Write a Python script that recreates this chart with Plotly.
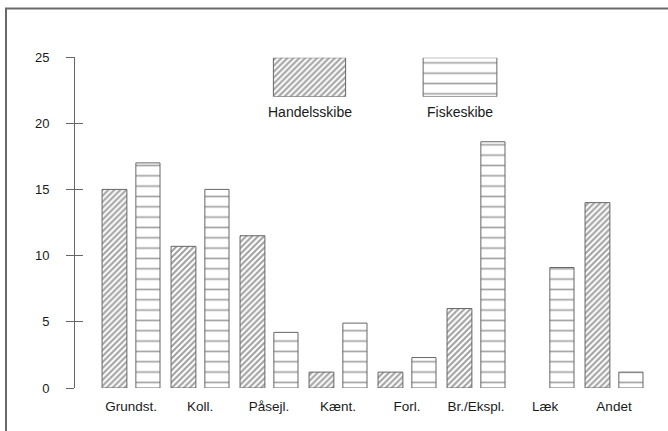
import plotly.graph_objects as go

categories = ["Grundst.", "Koll.", "Påsejl.", "Kænt.", "Forl.", "Br./Ekspl.", "Læk", "Andet"]
handelsskibe = [15, 10.7, 11.5, 1.2, 1.2, 6, None, 14]
fiskeskibe = [17, 15, 4.2, 4.9, 2.3, 18.6, 9.1, 1.2]
series_names = ["Handelsskibe", "Fiskeskibe"]
y_ticks = [0, 5, 10, 15, 20, 25]

FONT = "Liberation Sans, Arial, sans-serif"
LINE = "#666666"
HATCH = "#444444"

W, H = 668, 431
ML, MR, MT, MB = 75, 13, 57, 43
PW, PH = W - ML - MR, H - MT - MB


def px_x(p):
    return (p - ML) / PW


def px_y(p):
    return (H - MB - p) / PH


hatch_diag = dict(shape="/", size=4.2, solidity=0.5, fgcolor=HATCH, bgcolor="white")
hatch_horiz = dict(shape="-", size=10.33, solidity=0.16, fgcolor=HATCH, bgcolor="white")

fig = go.Figure()
fig.add_trace(go.Bar(
    x=categories, y=handelsskibe, name=series_names[0],
    width=0.36, offset=-0.42,
    marker=dict(color="white", line=dict(color=LINE, width=1), pattern=hatch_diag),
    showlegend=False,
))
fig.add_trace(go.Bar(
    x=categories, y=fiskeskibe, name=series_names[1],
    width=0.35, offset=0.07,
    marker=dict(color="white", line=dict(color=LINE, width=1), pattern=hatch_horiz),
    showlegend=False,
))
# inside ticks on the y axis (overlay)
fig.add_trace(go.Scatter(x=[categories[0]], y=[None], yaxis="y2", showlegend=False,
                         hoverinfo="skip"))

# legend swatches drawn as bars on an auxiliary axis
fig.add_trace(go.Bar(
    x=[series_names[0]], y=[1], xaxis="x2", yaxis="y3", width=0.48,
    marker=dict(color="white", line=dict(color=LINE, width=1), pattern=hatch_diag),
    showlegend=False, hoverinfo="skip",
))
fig.add_trace(go.Bar(
    x=[series_names[1]], y=[1], xaxis="x2", yaxis="y3", width=0.49,
    marker=dict(color="white", line=dict(color=LINE, width=1), pattern=hatch_horiz),
    showlegend=False, hoverinfo="skip",
))

leg_l = px_x(234.25)
leg_r = px_x(535.25)

annotations = []
for name in series_names:
    annotations.append(dict(
        x=name, xref="x2", y=px_y(111.5), yref="paper", text=name,
        showarrow=False, font=dict(family=FONT, size=14, color="#1a1a1a"),
        xanchor="center", yanchor="middle",
    ))

fig.update_layout(
    width=W, height=H,
    margin=dict(l=ML, r=MR, t=MT, b=MB, pad=0),
    paper_bgcolor="white", plot_bgcolor="rgba(0,0,0,0)",
    barmode="overlay",
    font=dict(family=FONT, size=13, color="#1a1a1a"),
    xaxis=dict(
        type="category", categoryorder="array", categoryarray=categories,
        range=[-0.812, 7.594], showline=False, showgrid=False, zeroline=False,
        ticks="", tickfont=dict(size=13.5), ticklabelstandoff=8,
    ),
    yaxis=dict(
        range=[0, 25], tickvals=y_ticks, ticktext=[str(v) for v in y_ticks],
        showline=True, linecolor=LINE, linewidth=1,
        ticks="outside", ticklen=8, tickwidth=1, tickcolor=LINE,
        showgrid=False, zeroline=False, ticklabelstandoff=14,
        tickfont=dict(size=13),
    ),
    yaxis2=dict(
        range=[0, 25], overlaying="y", side="left", anchor="x",
        tickvals=y_ticks, showticklabels=False,
        ticks="inside", ticklen=8, tickwidth=1, tickcolor=LINE,
        showline=False, showgrid=False, zeroline=False,
    ),
    xaxis2=dict(
        type="category", categoryorder="array", categoryarray=series_names,
        domain=[leg_l, leg_r], anchor="y3", range=[-0.5, 1.5],
        visible=False, fixedrange=True,
    ),
    yaxis3=dict(
        domain=[px_y(96.7), px_y(57.7)], anchor="x2", range=[0, 1],
        visible=False, fixedrange=True,
    ),
    annotations=annotations,
    shapes=[
        dict(type="line", xref="paper", yref="paper",
             x0=px_x(6), x1=px_x(6), y0=px_y(8.5), y1=px_y(H + 2),
             line=dict(color="#6a6a6a", width=2)),
        dict(type="line", xref="paper", yref="paper",
             x0=px_x(5), x1=px_x(W + 2), y0=px_y(8.5), y1=px_y(8.5),
             line=dict(color="#6a6a6a", width=2)),
    ],
)

fig.write_html(
    "out.html",
    config={"displayModeBar": False},
    post_script="document.body.style.margin='0px';document.body.style.overflow='hidden';",
)
